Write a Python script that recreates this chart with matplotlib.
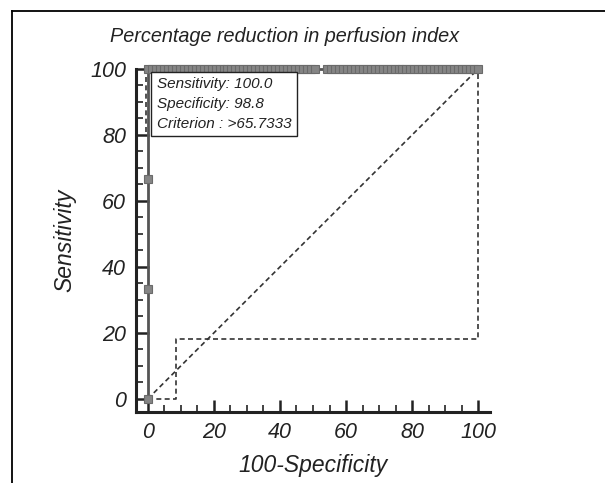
import numpy as np
import matplotlib
matplotlib.use("Agg")
import matplotlib.pyplot as plt
from matplotlib.lines import Line2D

plt.rcParams['font.family'] = ['Liberation Sans', 'DejaVu Sans']

# ROC points (100-specificity, sensitivity)
roc_fpr = [0, 0, 0, 0,
           1.2, 2.4, 3.6, 4.8, 6.0, 7.2, 8.4, 9.6, 10.8, 12.0, 13.3, 14.5, 15.7, 16.9,
           18.1, 19.3, 20.5, 21.7, 22.9, 24.1, 25.3, 26.5, 27.7, 28.9, 30.1, 31.3, 32.5,
           33.7, 34.9, 36.1, 37.3, 38.6, 39.8, 41.0, 42.2, 43.4, 44.6, 45.8, 47.0, 48.2,
           49.4, 50.6, 54.2, 55.4, 56.6, 57.8, 59.0, 60.2, 61.4, 62.7, 63.9, 65.1, 66.3,
           67.5, 68.7, 69.9, 71.1, 72.3, 73.5, 74.7, 75.9, 77.1, 78.3, 79.5, 80.7, 81.9,
           83.1, 84.3, 85.5, 86.7, 88.0, 89.2, 90.4, 91.6, 92.8, 94.0, 95.2, 96.4, 97.6,
           98.8, 100.0]
roc_sens = [0, 33.3, 66.7, 100] + [100] * (len(roc_fpr) - 4)

# confidence bounds
lower_x = [0, 8.5, 8.5, 100, 100]
lower_y = [0, 0, 18, 18, 100]
upper_x = [-0.6, -0.6]
upper_y = [81, 100]

info_lines = ["Sensitivity: 100.0", "Specificity: 98.8", "Criterion : >65.7333"]
title = "Percentage reduction in perfusion index"

fig = plt.figure(figsize=(6.05, 4.83), dpi=100)
ax = fig.add_axes([136/605, 71/483, 354/605, 343/483])

ax.plot([0, 100], [0, 100], color="#333333", lw=1.2, ls=(0, (3, 2)))
ax.plot(lower_x, lower_y, color="#333333", lw=1.2, ls=(0, (3, 2)))
ax.plot(upper_x, upper_y, color="#333333", lw=1.2, ls=(0, (3, 2)))
ax.plot(roc_fpr, roc_sens, color="#555555", lw=2, marker="s", ms=6,
        mfc="#858585", mec="#6a6a6a", mew=0.8, clip_on=False, zorder=3)

ax.text(2.7, 97.6, "\n".join(info_lines), fontsize=11, style="italic",
        va="top", ha="left", linespacing=1.55, color="#222222", zorder=4,
        bbox=dict(boxstyle="square,pad=0.35", fc="white", ec="#222222", lw=1))

ax.set_xlim(-3.6, 103.6)
ax.set_ylim(-4, 100)
for s in ["top", "right"]:
    ax.spines[s].set_visible(False)
for s in ["left", "bottom"]:
    ax.spines[s].set_linewidth(2.2)
    ax.spines[s].set_color("#222222")
ax.spines["left"].set_bounds(-4, 100)

ax.set_xticks(np.arange(0, 101, 20))
ax.set_yticks(np.arange(0, 101, 20))
ax.set_xticks(np.arange(0, 101, 5), minor=True)
ax.set_yticks(np.arange(0, 101, 5), minor=True)
ax.tick_params(which="major", direction="in", length=9, width=1.8, color="#222222",
               labelsize=15.5, pad=7)
ax.tick_params(which="minor", direction="in", length=5, width=1.2, color="#222222")
for lab in ax.get_xticklabels() + ax.get_yticklabels():
    lab.set_fontstyle("italic")
    lab.set_color("#222222")

ax.set_xlabel("100-Specificity", fontsize=16.5, style="italic", color="#222222", labelpad=8)
ax.set_ylabel("Sensitivity", fontsize=16.5, style="italic", color="#222222", labelpad=10)
fig.text(285/605, 1 - 37/483, title, fontsize=14.3, style="italic", color="#222222",
         ha="center", va="center")

# outer frame (top and left)
fig.add_artist(Line2D([12/605, 1], [1 - 11/483, 1 - 11/483], color="black", lw=1.3))
fig.add_artist(Line2D([12/605, 12/605], [0, 1 - 11/483], color="black", lw=1.3))

fig.savefig("out.png", dpi=100)
